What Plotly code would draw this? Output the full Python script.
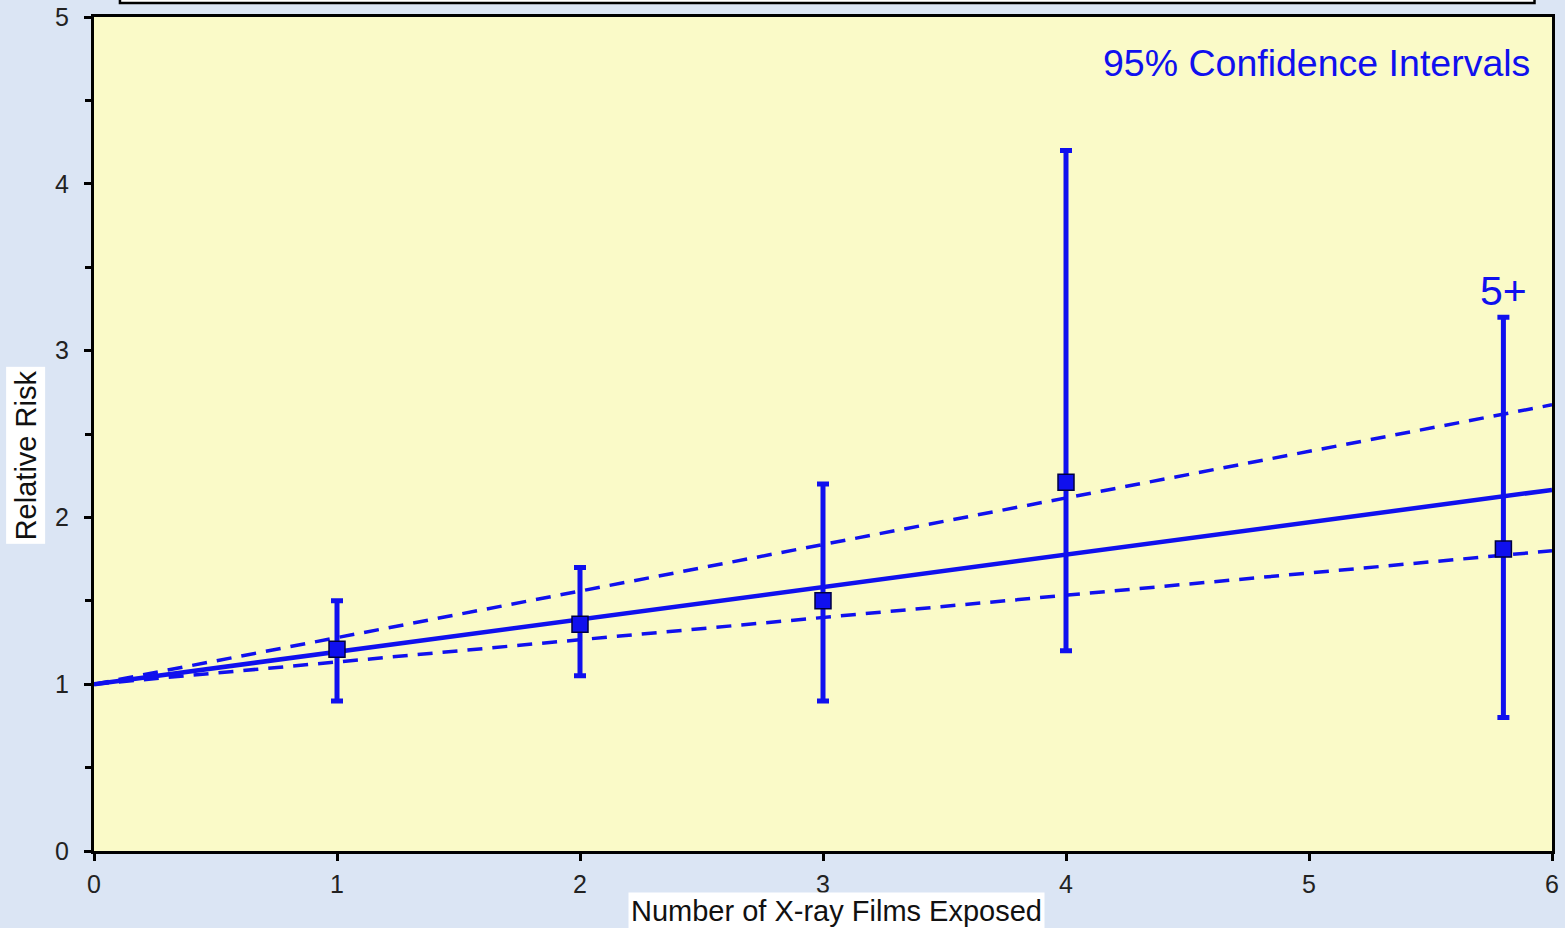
import plotly.graph_objects as go

# ---- data ----
films = [1, 2, 3, 4, 5.8]
rr = [1.21, 1.36, 1.50, 2.21, 1.81]
ci_low = [0.90, 1.05, 0.90, 1.20, 0.80]
ci_high = [1.50, 1.70, 2.20, 4.20, 3.20]

trend_x = [0, 6]
trend_fit = [1.0, 2.165]
trend_upper = [1.0, 2.675]
trend_lower = [1.0, 1.80]

x_ticks = [0, 1, 2, 3, 4, 5, 6]
y_ticks = [0, 1, 2, 3, 4, 5]

BLUE = "#1010ee"
FONT = "Liberation Sans, Arial, sans-serif"

fig = go.Figure()

for ys in (trend_upper, trend_lower):
    fig.add_trace(go.Scatter(x=trend_x, y=ys, mode="lines",
                             line=dict(color=BLUE, width=3.5, dash="15px,10px"),
                             hoverinfo="skip", showlegend=False))
fig.add_trace(go.Scatter(x=trend_x, y=trend_fit, mode="lines",
                         line=dict(color=BLUE, width=4.5),
                         hoverinfo="skip", showlegend=False))

fig.add_trace(go.Scatter(
    x=films, y=rr, mode="markers",
    marker=dict(symbol="square", size=16, color=BLUE,
                line=dict(color="#000040", width=1.5)),
    error_y=dict(type="data", symmetric=False,
                 array=[h - v for h, v in zip(ci_high, rr)],
                 arrayminus=[v - l for v, l in zip(rr, ci_low)],
                 color=BLUE, thickness=5, width=6),
    showlegend=False))

# cut-off title box at the very top
fig.add_shape(type="rect", xref="paper", yref="paper",
              x0=0.0178, x1=0.988, y0=1.0168, y1=1.08,
              fillcolor="white", line=dict(color="black", width=2.5), layer="above")

fig.add_annotation(text="95% Confidence Intervals", xref="paper", yref="paper",
                   x=0.986, y=0.945, xanchor="right", yanchor="middle",
                   showarrow=False, font=dict(family=FONT, size=37.5, color=BLUE))
fig.add_annotation(text="5+", x=films[-1], y=3.36, xref="x", yref="y",
                   showarrow=False, font=dict(family=FONT, size=41, color=BLUE))

fig.add_annotation(text="Number of X-ray Films Exposed", xref="paper", yref="paper",
                   x=0.509, y=-0.0715, xanchor="center", yanchor="middle",
                   showarrow=False, bgcolor="white", borderpad=2,
                   font=dict(family=FONT, size=29, color="#111"))
fig.add_annotation(text="Relative Risk", xref="paper", yref="paper",
                   x=-0.047, y=0.475, textangle=-90, xanchor="center", yanchor="middle",
                   showarrow=False, bgcolor="white", borderpad=3,
                   font=dict(family=FONT, size=29, color="#111"))

axis_common = dict(showline=True, linecolor="black", linewidth=3, mirror=True,
                   showgrid=False, zeroline=False, ticks="outside",
                   tickcolor="black", tickwidth=3, ticklen=7,
                   tickfont=dict(family=FONT, size=25, color="#222"))

fig.update_xaxes(range=[0, 6], tickvals=x_ticks, ticktext=[str(t) for t in x_ticks],
                 ticklabelstandoff=2, automargin=False, **axis_common)
fig.update_yaxes(range=[0, 5], tickvals=y_ticks, ticktext=[str(t) for t in y_ticks],
                 ticklabelstandoff=10, automargin=False,
                 minor=dict(dtick=0.5, ticks="outside", ticklen=6, tickwidth=3,
                            tickcolor="black", showgrid=False),
                 **axis_common)

fig.update_layout(width=1565, height=928,
                  margin=dict(l=94, r=13, t=17, b=77, autoexpand=False),
                  paper_bgcolor="#dbe5f4", plot_bgcolor="#fafac8",
                  font=dict(family=FONT), showlegend=False)

fig.write_html("out.html", config={"displayModeBar": False},
               post_script="document.body.style.margin='0';")
